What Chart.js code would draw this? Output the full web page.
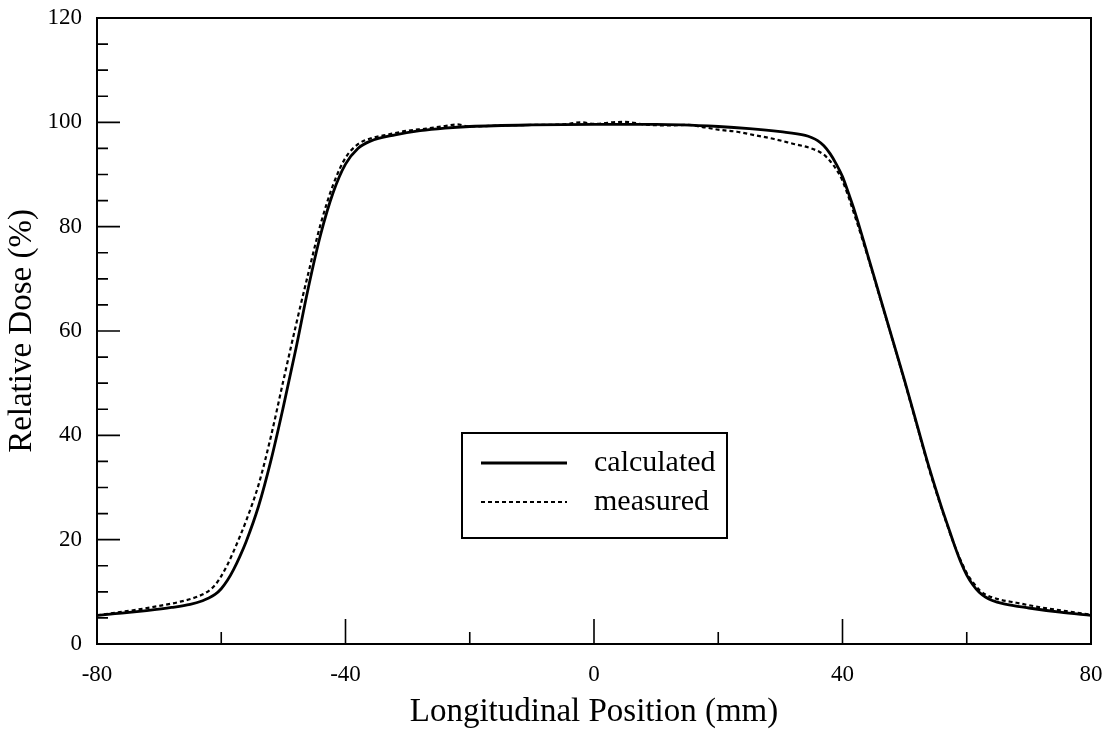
<!DOCTYPE html>
<html>
<head>
<meta charset="utf-8">
<script src="https://cdn.jsdelivr.net/npm/chart.js@4.4.0/dist/chart.umd.min.js"></script>
<style>
    html, body { margin:0; padding:0; background:#fff; }
    canvas { display:block; }
</style>
</head>
<body>
<canvas id="chartDose" width="1108" height="729"></canvas>
<script>

// longitudinal dose profile
const calcX = [-80,-76,-72,-68,-65,-63,-62,-61,-60,-59,-58,-57,-56,-54,-52,-50,-48,-46,-44,-42,-40,-38,-36,-32,-28,-24,-20,-10,0,10,20,25,30,34,35,36,37,38,39,40,41,42,44,46,48,50,52,54,56,57,58,59,60,61,62,63,64,66,70,75,80];
const calcY = [5.5,5.9,6.4,7.0,7.6,8.3,8.8,9.5,10.6,12.2,14.3,16.8,19.6,26.4,35.2,45.5,56.5,68.2,78.5,86.5,92.0,95.0,96.4,97.6,98.4,98.9,99.2,99.5,99.6,99.6,99.2,98.8,98.2,97.5,97.1,96.5,95.5,94.0,92.0,89.6,86.3,82.8,74.8,66.7,58.6,50.5,42.0,33.6,26.0,22.5,19.0,15.8,13.2,11.3,9.9,9.0,8.4,7.7,6.9,6.1,5.5];

const measX = [-80,-77,-74,-70,-67,-64,-62,-61,-60,-59,-58,-57,-56,-54,-52,-50,-48,-46,-44,-42,-40,-38,-36,-33,-30,-27,-24,-22,-20,-15,-10,-5,-2,0,3,5,8,12,15,18,20,23,26,29,32,35,37,38,39,40,42,44,46,48,50,52,54,56,58,60,61,62,63,65,68,72,76,80];
const measY = [5.5,6.0,6.5,7.3,8.0,9.0,10.2,11.3,13.0,15.2,17.8,20.6,23.6,30.5,39.8,50.5,61.0,71.0,80.5,88.0,93.2,95.8,96.9,97.7,98.4,98.8,99.3,99.6,99.2,99.4,99.5,99.6,100.0,99.7,100.0,100.1,99.6,99.4,99.5,99.0,98.6,98.2,97.5,96.8,95.9,95.0,93.8,92.6,91.0,88.8,82.0,74.5,66.5,58.5,50.3,41.8,33.3,25.8,19.0,13.6,11.8,10.4,9.5,8.6,7.9,7.0,6.3,5.6];

const seriesNames = ["calculated","measured"];

const serif = "'Liberation Serif', 'Times New Roman', serif";

function toPoints(xs, ys){
    return xs.map((x,i)=>({x:x, y:ys[i]}));
}

// frame, inward ticks and boxed legend
const framePlugin = {
    id:"frame",
    afterDraw(chart){

        const ctx = chart.ctx;
        const a = chart.chartArea;
        const xs = chart.scales.x;
        const ys = chart.scales.y;

        ctx.save();
        ctx.strokeStyle = "#000";
        ctx.lineWidth = 2;
        ctx.strokeRect(a.left, a.top, a.right-a.left, a.bottom-a.top);

        ctx.lineWidth = 1.6;
        ctx.beginPath();

        for(let v=ys.min; v<=ys.max; v+=5){
            const py = ys.getPixelForValue(v);
            const len = (v % 20 === 0) ? 23 : 11;
            ctx.moveTo(a.left, py);
            ctx.lineTo(a.left+len, py);
        }

        for(let v=xs.min; v<=xs.max; v+=20){
            const px = xs.getPixelForValue(v);
            const len = (v % 40 === 0) ? 25 : 12;
            ctx.moveTo(px, a.bottom);
            ctx.lineTo(px, a.bottom-len);
        }
        ctx.stroke();

        // legend box
        const bx = 462, by = 433, bw = 265, bh = 105;
        ctx.lineWidth = 2;
        ctx.strokeRect(bx, by, bw, bh);

        ctx.font = "30px " + serif;
        ctx.fillStyle = "#000";
        ctx.textBaseline = "middle";

        chart.data.datasets.forEach((ds,i)=>{
            const ry = by + 30 + i*39;
            ctx.beginPath();
            ctx.lineWidth = ds.borderWidth;
            ctx.setLineDash(ds.borderDash || []);
            ctx.moveTo(bx+19, ry);
            ctx.lineTo(bx+105, ry);
            ctx.stroke();
            ctx.setLineDash([]);
            ctx.fillText(ds.label, bx+132, ry);
        });

        ctx.restore();
    }
};

new Chart(document.getElementById("chartDose"),{

    type:"line",

    data:{
        datasets:[
            {
                label:seriesNames[0],
                data:toPoints(calcX, calcY),
                borderColor:"#000",
                borderWidth:2.8,
                pointRadius:0,
                cubicInterpolationMode:"monotone",
                fill:false
            },
            {
                label:seriesNames[1],
                data:toPoints(measX, measY),
                borderColor:"#000",
                borderWidth:2.2,
                borderDash:[4,3],
                pointRadius:0,
                cubicInterpolationMode:"monotone",
                fill:false
            }
        ]
    },

    options:{

        responsive:false,
        animation:false,

        layout:{
            padding:{ top:18, right:17, left:0, bottom:0 }
        },

        scales:{

            x:{
                type:"linear",
                min:-80,
                max:80,
                grid:{ display:false, drawTicks:false },
                border:{ display:false },
                ticks:{
                    stepSize:40,
                    padding:17,
                    color:"#000",
                    font:{ family:serif, size:23 }
                },
                title:{
                    display:true,
                    text:"Longitudinal Position (mm)",
                    color:"#000",
                    font:{ family:serif, size:33, lineHeight:1 },
                    padding:{ top:0, bottom:0 }
                },
                afterFit(scale){
                    scale.height = 85;
                    scale.paddingLeft = 0;
                    scale.paddingRight = 0;
                }
            },

            y:{
                min:0,
                max:120,
                grid:{ display:false, drawTicks:false },
                border:{ display:false },
                ticks:{
                    stepSize:20,
                    padding:15,
                    color:"#000",
                    font:{ family:serif, size:23 }
                },
                title:{
                    display:true,
                    text:"Relative Dose (%)",
                    color:"#000",
                    font:{ family:serif, size:33, lineHeight:1 },
                    padding:{ top:6, bottom:0 }
                },
                afterFit(scale){
                    scale.width = 97;
                    scale.paddingTop = 0;
                    scale.paddingBottom = 0;
                }
            }
        },

        plugins:{
            legend:{ display:false },
            tooltip:{ enabled:false }
        }
    },

    plugins:[framePlugin]
});

</script>
</body>
</html>
